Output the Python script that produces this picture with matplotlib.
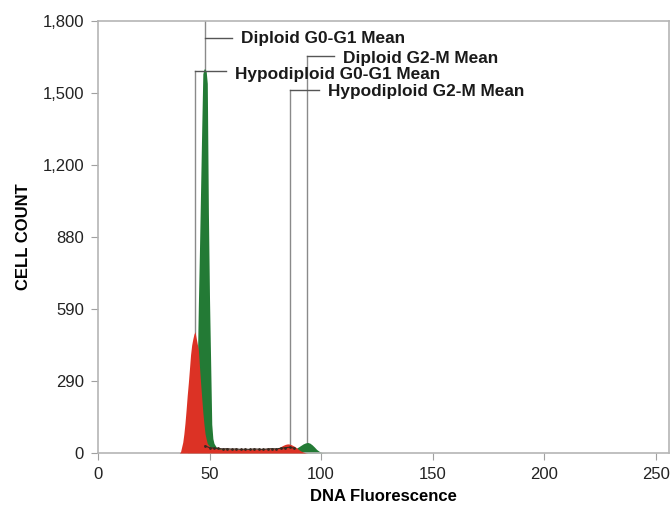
import matplotlib.pyplot as plt
import numpy as np

plt.rcParams['font.family'] = ['Liberation Sans', 'DejaVu Sans']

# diploid population (green)
green_x = [40, 42, 43, 44, 44.5, 45, 45.5, 46, 46.5, 47, 47.5, 48, 48.5, 49, 49.5, 50, 50.5, 51,
           51.5, 52, 53, 55, 60, 65, 70, 75, 80, 84, 87, 89, 90, 91, 92, 93, 94, 95, 96, 97, 98,
           99, 100, 101, 103]
green_y = [0, 20, 50, 150, 350, 620, 850, 1100, 1350, 1580, 1600, 1600, 1590, 1540, 1000, 640, 380,
           120, 60, 40, 25, 18, 16, 15, 15, 16, 15, 15, 16, 20, 26, 32, 38, 42, 44, 41, 34, 25, 15,
           8, 3, 1, 0]

# hypodiploid population (red)
red_x = [36.5, 37, 38, 38.5, 39, 39.5, 40, 40.5, 41, 41.5, 42, 42.5, 43, 43.5, 44, 44.5, 45,
         45.5, 46, 46.5, 47, 47.5, 48, 48.5, 49, 50, 52, 55, 60, 65, 70, 75, 80, 81, 82, 83, 84,
         85, 86, 87, 88, 89, 90, 91, 92, 93, 94]
red_y = [0, 5, 45, 80, 125, 180, 240, 292, 350, 410, 450, 475, 495, 506, 480, 455, 430,
         360, 292, 230, 170, 120, 80, 58, 40, 28, 20, 16, 16, 15, 16, 17, 18, 22, 27, 32, 36,
         38, 37, 33, 28, 22, 14, 8, 4, 1, 0]

# debris trace along the base
debris_x = [48, 50, 52, 54, 56, 58, 60, 62, 64, 66, 68, 70, 72, 74, 76, 78, 80, 82, 84, 86, 88]
debris_y = [30, 22, 20, 19, 17, 18, 16, 17, 15, 16, 15, 17, 16, 15, 17, 18, 17, 20, 22, 24, 20]

# population means
mean_names = ['Diploid G0-G1 Mean', 'Diploid G2-M Mean',
              'Hypodiploid G0-G1 Mean', 'Hypodiploid G2-M Mean']
mean_x = [48.0, 93.8, 43.6, 86.2]

ytick_labels = ['0', '290', '590', '880', '1,200', '1,500', '1,800']
xticks = [0, 50, 100, 150, 200, 250]

fig = plt.figure(figsize=(6.71, 5.08), dpi=100)
fig.set_facecolor('white')
ax = fig.add_axes([98/671, 55/508, 571/671, 432/508])

ax.fill_between(green_x, green_y, color='#237a35', lw=0, zorder=2)
ax.fill_between(red_x, red_y, color='#dc3225', lw=0, zorder=3)
ax.plot(debris_x, debris_y, color='#3a2a20', lw=0.8, marker='.', ms=2, zorder=4)

# label layout: (top of vertical line, branch y, text x, text y)
layout = [(1800, 1730, 64.1, 1728),
          (1654, 1654, 109.8, 1643),
          (1591, 1591, 61.4, 1575),
          (1511, 1511, 103.1, 1507)]
for name, mx, (top, by, tx, ty) in zip(mean_names, mean_x, layout):
    ax.plot([mx, mx], [0, top], color='#8a8a8a', lw=1, zorder=1)
    ax.plot([mx, tx - 3.8], [by, by], color='#555555', lw=1, zorder=5)
    ax.text(tx, ty, name, fontsize=12.4, fontweight='bold', va='center', ha='left', color='#1a1a1a')

ax.set_xlim(0, 256)
ax.set_ylim(0, 1800)
ax.set_xticks(xticks)
ax.set_yticks(np.linspace(0, 1800, 7), ytick_labels)

for s in ax.spines.values():
    s.set_color('#b5b5b5')
    s.set_linewidth(1.2)
ax.tick_params(length=5, color='#a0a0a0', labelsize=12, labelcolor='#222222', pad=5)

ax.set_xlabel('DNA Fluorescence', fontsize=12, fontweight='bold', labelpad=5)
ax.set_ylabel('CELL COUNT', fontsize=12, fontweight='bold', labelpad=8)

fig.savefig('out.png', dpi=100)
